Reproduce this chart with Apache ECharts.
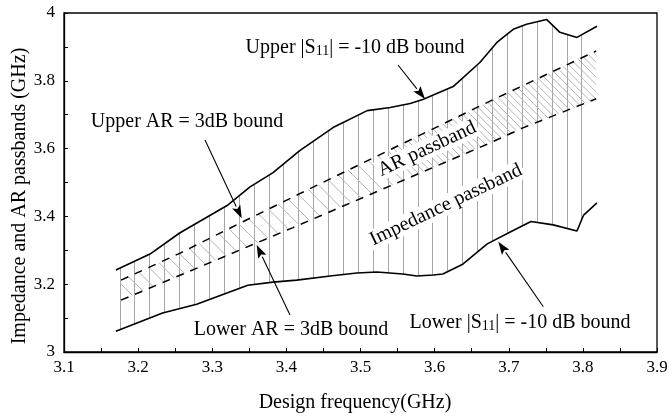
<!DOCTYPE html>
<html>
<head>
<meta charset="utf-8">
<script src="https://cdn.jsdelivr.net/npm/echarts@6/dist/echarts.min.js"></script>
<style>
  html, body { margin: 0; padding: 0; background: #fff; }
  #chart { width: 669px; height: 417px; }
</style>
</head>
<body>
<div id="chart"></div>
<script>
// Upper |S11| = -10 dB boundary of the impedance passband
const upperS11Freq = [3.170, 3.216, 3.256, 3.320, 3.351, 3.382, 3.418, 3.463, 3.509, 3.540, 3.567,
                      3.584, 3.625, 3.661, 3.684, 3.706, 3.724, 3.751, 3.769, 3.792, 3.819];
const upperS11 = [3.242, 3.289, 3.351, 3.432, 3.487, 3.529, 3.594, 3.662, 3.712, 3.721, 3.733,
                  3.745, 3.783, 3.854, 3.913, 3.952, 3.967, 3.981, 3.943, 3.928, 3.961];

// Lower |S11| = -10 dB boundary
const lowerS11Freq = [3.170, 3.233, 3.279, 3.348, 3.382, 3.414, 3.459, 3.495, 3.522, 3.557, 3.576,
                      3.598, 3.611, 3.638, 3.671, 3.702, 3.730, 3.760, 3.792, 3.801, 3.819];
const lowerS11 = [3.061, 3.115, 3.141, 3.197, 3.206, 3.212, 3.224, 3.233, 3.236, 3.230, 3.224,
                  3.227, 3.230, 3.259, 3.319, 3.354, 3.385, 3.375, 3.357, 3.404, 3.440];

// Upper and lower AR = 3 dB boundaries
const upperARFreq = [3.177, 3.256, 3.342, 3.418, 3.670, 3.818];
const upperAR = [3.212, 3.291, 3.385, 3.467, 3.735, 3.888];
const lowerARFreq = [3.177, 3.409, 3.670, 3.719, 3.818];
const lowerAR = [3.153, 3.367, 3.612, 3.661, 3.747];

// Axis tick labels
const xTickLabels = ['3.1', '3.2', '3.3', '3.4', '3.5', '3.6', '3.7', '3.8', '3.9'];
const yTickLabels = ['3', '3.2', '3.4', '3.6', '3.8', '4'];

const FONT = '"Liberation Serif", "Times New Roman", serif';

// hatch styling (in GHz along the frequency axis)
const V_HATCH_START = 3.175, V_HATCH_STEP = 0.0201, V_HATCH_COUNT = 32;
const D_HATCH_REF_Y = 3.5;

function pairs(xs, ys) { return xs.map((x, i) => [x, ys[i]]); }

function bandPoints(api, topX, topY, botX, botY) {
  const pts = [];
  for (let i = 0; i < topX.length; i++) pts.push(api.coord([topX[i], topY[i]]));
  for (let i = botX.length - 1; i >= 0; i--) pts.push(api.coord([botX[i], botY[i]]));
  return pts;
}

// vertical hatching between the two |S11| bounds
function renderImpedanceHatch(params, api) {
  const poly = bandPoints(api, upperS11Freq, upperS11, lowerS11Freq, lowerS11);
  const yTop = api.coord([3.5, 4])[1];
  const yBot = api.coord([3.5, 3])[1];
  const children = [];
  for (let k = 0; k < V_HATCH_COUNT; k++) {
    const px = Math.round(api.coord([V_HATCH_START + k * V_HATCH_STEP, 3])[0]) + 0.5;
    children.push({
      type: 'line',
      shape: { x1: px, y1: yTop, x2: px, y2: yBot },
      style: { stroke: '#a6a6a6', lineWidth: 1 }
    });
  }
  return { type: 'group', clipPath: { type: 'polygon', shape: { points: poly } }, children };
}

// diagonal hatching between the two AR bounds
function renderARHatch(params, api) {
  const poly = bandPoints(api, upperARFreq, upperAR, lowerARFreq, lowerAR);
  const starts = [];
  for (let k = 0; k <= 28; k++) starts.push(3.00 + k * 0.02);
  for (let k = 0; k <= 42; k++) starts.push(3.58 + k * 0.01);
  const children = starts.map(xs => {
    const p = api.coord([xs, D_HATCH_REF_Y]);
    return {
      type: 'line',
      shape: { x1: p[0] - 400, y1: p[1] - 400, x2: p[0] + 400, y2: p[1] + 400 },
      style: { stroke: '#b4b4b4', lineWidth: 1 }
    };
  });
  return { type: 'group', clipPath: { type: 'polygon', shape: { points: poly } }, children };
}

function arrow(x1, y1, x2, y2) {
  const dx = x2 - x1, dy = y2 - y1, len = Math.hypot(dx, dy);
  const ux = dx / len, uy = dy / len;
  const L = 13, W = 4.5;
  const bx = x2 - ux * L, by = y2 - uy * L;
  return [
    { type: 'line', silent: true, z: 10, shape: { x1, y1, x2: bx, y2: by },
      style: { stroke: '#000', lineWidth: 1.1 } },
    { type: 'polygon', silent: true, z: 10,
      shape: { points: [[x2, y2], [bx - uy * W, by + ux * W], [x2 - ux * L * 0.8, y2 - uy * L * 0.8], [bx + uy * W, by - ux * W]] },
      style: { fill: '#000' } }
  ];
}

function label(text, x, y, rotDeg, boxed) {
  const style = { text, font: '20px ' + FONT, fill: '#000', align: 'center', verticalAlign: 'middle' };
  if (boxed) { style.backgroundColor = '#fff'; style.padding = [0, 2]; }
  return { type: 'text', x, y, z: 3, rotation: (rotDeg || 0) * Math.PI / 180, silent: true, style };
}

function s11Label(prefix, x, y) {
  return {
    type: 'text', x, y, z: 3, silent: true,
    style: {
      text: '{a|' + prefix + ' |S}{b|11}{a|| = -10 dB bound}',
      align: 'center', verticalAlign: 'middle',
      rich: {
        a: { fontFamily: FONT, fontSize: 20, lineHeight: 24, verticalAlign: 'bottom', fill: '#000', color: '#000' },
        b: { fontFamily: FONT, fontSize: 14, lineHeight: 24, verticalAlign: 'bottom', fill: '#000', color: '#000' }
      }
    }
  };
}

const graphics = [].concat(
  // axis titles
  [label('Design frequency(GHz)', 355, 403)],
  [label('Impedance and AR passbands (GHz)', 20, 196, 90)],
  // annotations
  [s11Label('Upper', 355, 46)],
  arrow(398, 65, 425, 99),
  [label('Upper AR = 3dB bound', 187, 122)],
  arrow(205, 140, 241.7, 218.3),
  [label('AR passband', 427, 149, 25, true)],
  [label('Impedance passband', 446, 205, 25.5, true)],
  [label('Lower AR = 3dB bound', 291, 330)],
  arrow(290, 315, 256.7, 245),
  [s11Label('Lower', 520, 321)],
  arrow(543.3, 306.7, 498.3, 241.7)
);

const chart = echarts.init(document.getElementById('chart'));
chart.setOption({
  animation: false,
  backgroundColor: '#fff',
  grid: { left: 64, right: 12, top: 13, bottom: 65, show: true, borderColor: '#000', borderWidth: 1.3,
          outerBoundsMode: 'none', containLabel: false },
  xAxis: {
    type: 'value', min: 3.1, max: 3.9, interval: 0.05,
    axisLine: { lineStyle: { color: '#000', width: 1.3 } },
    axisTick: { inside: true, length: 4, lineStyle: { color: '#000', width: 1 } },
    splitLine: { show: false },
    axisLabel: {
      fontFamily: FONT, fontSize: 17, color: '#000', margin: 7,
      formatter: v => { const s = String(Math.round(v * 100) / 100); return xTickLabels.includes(s) ? s : ''; }
    }
  },
  yAxis: {
    type: 'value', min: 3, max: 4, interval: 0.1,
    axisLine: { lineStyle: { color: '#000', width: 1.3 } },
    axisTick: { inside: true, length: 4, lineStyle: { color: '#000', width: 1 } },
    splitLine: { show: false },
    axisLabel: {
      fontFamily: FONT, fontSize: 17, color: '#000', margin: 9,
      formatter: v => { const s = String(Math.round(v * 100) / 100); return yTickLabels.includes(s) ? s : ''; }
    }
  },
  series: [
    { type: 'custom', name: 'Impedance passband', renderItem: renderImpedanceHatch,
      data: [[3.5, 3.5]], z: 1, silent: true },
    { type: 'custom', name: 'AR passband', renderItem: renderARHatch,
      data: [[3.5, 3.5]], z: 2, silent: true },
    { type: 'line', name: 'Upper |S11|', data: pairs(upperS11Freq, upperS11), symbol: 'none', z: 5,
      lineStyle: { color: '#000', width: 1.6 } },
    { type: 'line', name: 'Lower |S11|', data: pairs(lowerS11Freq, lowerS11), symbol: 'none', z: 5,
      lineStyle: { color: '#000', width: 1.6 } },
    { type: 'line', name: 'Upper AR', data: pairs(upperARFreq, upperAR), symbol: 'none', z: 5,
      lineStyle: { color: '#000', width: 1.5, type: [8, 7] } },
    { type: 'line', name: 'Lower AR', data: pairs(lowerARFreq, lowerAR), symbol: 'none', z: 5,
      lineStyle: { color: '#000', width: 1.5, type: [8, 7] } }
  ],
  graphic: graphics
});
</script>
</body>
</html>
